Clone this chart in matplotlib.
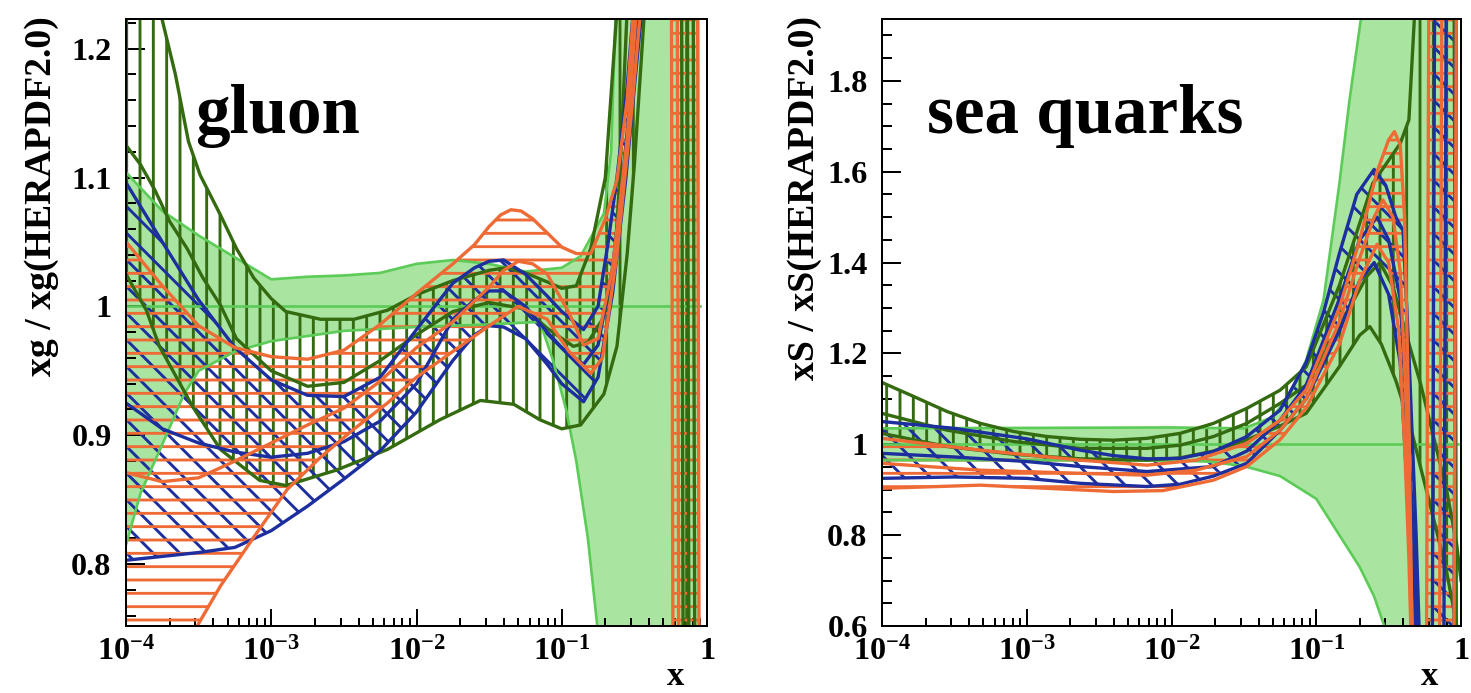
import numpy as np
import matplotlib
matplotlib.use('Agg')
import matplotlib.pyplot as plt
from matplotlib.ticker import FixedLocator, FixedFormatter, LogLocator, NullFormatter, MultipleLocator

plt.rcParams['font.family'] = ['Liberation Serif', 'DejaVu Serif']
plt.rcParams['font.weight'] = 'bold'
plt.rcParams['mathtext.fontset'] = 'custom'
plt.rcParams['mathtext.rm'] = 'Liberation Serif:bold'
plt.rcParams['mathtext.bf'] = 'Liberation Serif:bold'
plt.rcParams['mathtext.it'] = 'Liberation Serif:bold:italic'
plt.rcParams['hatch.linewidth'] = 2.6

# colours
REF_FILL = '#a9e5a1'
REF_LINE = '#5ccb57'
DARK_GREEN = '#356b10'
BLUE = '#1d2e9e'
ORANGE = '#ef6b35'

x_ticks = [1e-4, 1e-3, 1e-2, 1e-1, 1]
x_tick_labels = [r'$10^{-4}$', r'$10^{-3}$', r'$10^{-2}$', r'$10^{-1}$', '1']

# ---------------- gluon panel (x values as log10 x) ----------------
g_ref_up_lx = [-4.0, -3.75, -3.5, -3.25, -3.0, -2.75, -2.5, -2.25, -2.0, -1.75, -1.5, -1.25, -1.0, -0.87, -0.71, -0.66, -0.62, -0.05]
g_ref_up = [1.104, 1.074, 1.055, 1.038, 1.021, 1.023, 1.024, 1.026, 1.033, 1.036, 1.033, 1.027, 1.030, 1.039, 1.072, 1.120, 1.260, 1.260]
g_ref_lo_lx = [-4.0, -3.9, -3.75, -3.6, -3.5, -3.25, -3.0, -2.5, -2.0, -1.5, -1.15, -1.06, -0.97, -0.9, -0.82, -0.76, -0.7, -0.05]
g_ref_lo = [0.815, 0.855, 0.893, 0.932, 0.950, 0.965, 0.973, 0.981, 0.984, 0.986, 0.988, 0.958, 0.920, 0.880, 0.820, 0.757, 0.690, 0.690]
g_ref_end = -0.05

g_dg_up_lx = [-4.0, -3.75, -3.66, -3.57, -3.49, -3.35, -3.24, -3.12, -3.0, -2.9, -2.66, -2.43, -2.2, -2.0, -1.75, -1.5, -1.38, -1.25, -1.1, -1.0, -0.9, -0.8, -0.7, -0.62, -0.18, -0.16, 0.0]
g_dg_up = [1.45, 1.222, 1.180, 1.128, 1.102, 1.071, 1.045, 1.022, 1.006, 0.996, 0.990, 0.990, 0.997, 1.009, 1.020, 1.028, 1.030, 1.026, 1.019, 1.014, 1.016, 1.045, 1.100, 1.230, 1.5, 0.5, 0.5]
g_dg_mid_lx = [-4.0, -3.9, -3.8, -3.7, -3.58, -3.47, -3.35, -3.24, -3.0, -2.75, -2.5, -2.25, -2.0, -1.75, -1.5, -1.25, -1.1, -0.92, -0.82, -0.72, -0.645, -0.6, -0.55, -0.14, -0.12, 0.0]
g_dg_mid = [1.125, 1.110, 1.090, 1.066, 1.045, 1.022, 1.001, 0.975, 0.950, 0.938, 0.941, 0.958, 0.978, 0.996, 1.003, 0.998, 0.983, 0.969, 0.972, 0.990, 1.020, 1.100, 1.230, 1.5, 0.5, 0.5]
g_dg_lo_lx = [-4.0, -3.86, -3.77, -3.54, -3.35, -3.08, -2.9, -2.55, -2.2, -1.84, -1.56, -1.33, -1.15, -1.0, -0.87, -0.71, -0.62, -0.55, -0.5, -0.43, -0.10, -0.08, 0.0]
g_dg_lo = [1.025, 0.997, 0.969, 0.922, 0.889, 0.865, 0.861, 0.873, 0.889, 0.912, 0.927, 0.924, 0.912, 0.905, 0.908, 0.932, 0.969, 1.040, 1.110, 1.230, 1.5, 0.5, 0.5]

g_bl_up_lx = [-4.0, -3.75, -3.5, -3.25, -3.0, -2.75, -2.5, -2.25, -2.0, -1.75, -1.6, -1.5, -1.4, -1.25, -1.1, -1.0, -0.85, -0.75, -0.68, -0.62, -0.55, -0.5, 0.0]
g_bl_up = [1.096, 1.050, 1.005, 0.968, 0.943, 0.931, 0.930, 0.945, 0.982, 1.018, 1.030, 1.035, 1.036, 1.025, 1.008, 0.996, 0.982, 1.000, 1.050, 1.100, 1.170, 1.240, 1.5]
g_bl_mid_lx = [-4.0, -3.75, -3.5, -3.25, -3.0, -2.75, -2.5, -2.25, -2.0, -1.75, -1.6, -1.5, -1.4, -1.25, -1.1, -1.0, -0.85, -0.75, -0.65, -0.58, -0.52, -0.47, 0.0]
g_bl_mid = [0.925, 0.905, 0.894, 0.887, 0.883, 0.886, 0.895, 0.911, 0.940, 0.990, 1.005, 1.012, 1.012, 1.000, 0.980, 0.968, 0.955, 0.970, 1.030, 1.100, 1.170, 1.240, 1.5]
g_bl_lo_lx = [-4.0, -3.75, -3.5, -3.25, -3.0, -2.75, -2.5, -2.25, -2.0, -1.75, -1.6, -1.5, -1.4, -1.25, -1.1, -1.0, -0.85, -0.75, -0.65, -0.56, -0.5, -0.44, 0.0]
g_bl_lo = [0.803, 0.806, 0.809, 0.813, 0.826, 0.845, 0.866, 0.888, 0.918, 0.958, 0.978, 0.985, 0.984, 0.975, 0.955, 0.940, 0.926, 0.945, 1.010, 1.098, 1.170, 1.240, 1.5]

g_or_up_lx = [-4.0, -3.75, -3.5, -3.25, -3.0, -2.75, -2.5, -2.25, -2.0, -1.75, -1.6, -1.5, -1.42, -1.35, -1.28, -1.2, -1.1, -1.0, -0.9, -0.8, -0.7, -0.62, -0.55, -0.5, -0.25, -0.23, 0.0]
g_or_up = [1.050, 1.016, 0.985, 0.968, 0.961, 0.959, 0.966, 0.986, 1.010, 1.033, 1.048, 1.062, 1.071, 1.075, 1.074, 1.068, 1.057, 1.046, 1.041, 1.041, 1.068, 1.098, 1.160, 1.240, 1.5, 0.5, 0.5]
g_or_mid_lx = [-4.0, -3.75, -3.5, -3.25, -3.0, -2.75, -2.5, -2.25, -2.0, -1.75, -1.5, -1.4, -1.3, -1.2, -1.1, -0.95, -0.85, -0.75, -0.65, -0.55, -0.48, -0.21, -0.19, 0.0]
g_or_mid = [0.871, 0.864, 0.867, 0.880, 0.894, 0.908, 0.921, 0.942, 0.968, 0.988, 1.015, 1.028, 1.035, 1.033, 1.025, 0.995, 0.970, 0.975, 1.030, 1.130, 1.240, 1.5, 0.5, 0.5]
g_or_lo_lx = [-4.0, -3.75, -3.51, -3.35, -3.12, -2.89, -2.66, -2.44, -2.2, -2.0, -1.75, -1.5, -1.3, -1.1, -0.95, -0.8, -0.72, -0.62, -0.52, -0.45, -0.07, -0.05, 0.0]
g_or_lo = [0.660, 0.710, 0.752, 0.783, 0.821, 0.858, 0.883, 0.904, 0.925, 0.945, 0.965, 0.985, 1.000, 0.990, 0.965, 0.948, 0.960, 1.040, 1.150, 1.240, 1.5, 0.5, 0.5]

# ---------------- sea quark panel ----------------
s_ref_up_lx = [-4.0, -3.0, -2.0, -1.75, -1.5, -1.3, -1.18, -1.07, -0.95, -0.84, -0.77, -0.69, -0.6, -0.02]
s_ref_up = [1.035, 1.036, 1.037, 1.036, 1.035, 1.060, 1.112, 1.185, 1.317, 1.574, 1.758, 1.940, 2.2, 2.2]
s_ref_lo_lx = [-4.0, -3.0, -2.0, -1.75, -1.5, -1.25, -1.0, -0.9, -0.8, -0.7, -0.6, -0.53, -0.45, -0.02]
s_ref_lo = [0.965, 0.965, 0.964, 0.962, 0.952, 0.930, 0.880, 0.830, 0.780, 0.730, 0.665, 0.600, 0.4, 0.4]
s_ref_end = -0.02

s_dg_up_lx = [-4.0, -3.78, -3.55, -3.32, -3.09, -2.86, -2.63, -2.4, -2.17, -1.94, -1.71, -1.48, -1.25, -1.07, -0.84, -0.61, -0.42, -0.36, -0.32, -0.3, -0.05, -0.03, 0.0]
s_dg_up = [1.136, 1.105, 1.072, 1.046, 1.028, 1.017, 1.011, 1.009, 1.013, 1.024, 1.046, 1.079, 1.119, 1.170, 1.350, 1.574, 1.662, 1.714, 1.950, 2.2, 2.2, 0.4, 0.4]
s_dg_mid_lx = [-4.0, -3.55, -3.09, -2.63, -2.17, -1.94, -1.71, -1.48, -1.25, -1.07, -0.84, -0.65, -0.56, -0.47, -0.38, -0.28, -0.2, -0.1, -0.03, 0.0]
s_dg_mid = [1.068, 1.031, 1.006, 0.991, 0.991, 0.998, 1.017, 1.046, 1.090, 1.130, 1.260, 1.370, 1.400, 1.347, 1.244, 1.134, 1.030, 0.900, 0.780, 0.700]
s_dg_lo_lx = [-4.0, -3.55, -3.09, -2.63, -2.17, -1.94, -1.71, -1.48, -1.25, -1.07, -0.84, -0.7, -0.63, -0.55, -0.45, -0.35, -0.28, -0.2, -0.1, -0.04, 0.0]
s_dg_lo = [1.024, 0.995, 0.978, 0.968, 0.965, 0.970, 0.985, 1.010, 1.040, 1.068, 1.171, 1.240, 1.259, 1.220, 1.140, 1.040, 0.950, 0.850, 0.720, 0.620, 0.550]

s_bl_up_lx = [-4.0, -3.5, -3.0, -2.63, -2.4, -2.17, -1.94, -1.71, -1.48, -1.25, -1.07, -0.95, -0.84, -0.72, -0.6, -0.52, -0.45, -0.4, -0.36, -0.31, -0.27, -0.2, -0.18, 0.0]
s_bl_up = [1.050, 1.035, 1.012, 0.987, 0.975, 0.968, 0.969, 0.984, 1.017, 1.075, 1.180, 1.290, 1.420, 1.550, 1.605, 1.570, 1.500, 1.470, 1.200, 0.800, 0.400, 0.400, 2.2, 2.2]
s_bl_mid_lx = [-4.0, -3.5, -3.0, -2.63, -2.17, -1.71, -1.48, -1.25, -1.07, -0.84, -0.7, -0.58, -0.5, -0.42, -0.37, -0.32, -0.28, -0.12, -0.1, 0.0]
s_bl_mid = [0.980, 0.972, 0.962, 0.951, 0.940, 0.951, 0.985, 1.053, 1.130, 1.320, 1.450, 1.500, 1.450, 1.320, 1.050, 0.750, 0.400, 0.400, 2.2, 2.2]
s_bl_lo_lx = [-4.0, -3.5, -3.0, -2.63, -2.17, -1.94, -1.71, -1.48, -1.25, -1.07, -0.84, -0.7, -0.6, -0.5, -0.42, -0.38, -0.33, -0.3, -0.05, -0.03, 0.0]
s_bl_lo = [0.925, 0.928, 0.925, 0.914, 0.907, 0.912, 0.930, 0.958, 1.031, 1.100, 1.250, 1.360, 1.400, 1.330, 1.180, 0.950, 0.700, 0.400, 0.400, 2.2, 2.2]

s_or_up_lx = [-4.0, -3.32, -2.63, -2.17, -1.83, -1.48, -1.25, -1.07, -0.84, -0.7, -0.58, -0.5, -0.46, -0.42, -0.39, -0.36, -0.33, -0.24, -0.22, 0.0]
s_or_up = [1.013, 0.987, 0.965, 0.954, 0.965, 1.002, 1.053, 1.120, 1.300, 1.450, 1.600, 1.670, 1.688, 1.660, 1.500, 1.050, 0.400, 0.400, 2.2, 2.2]
s_or_mid_lx = [-4.0, -3.32, -2.63, -2.17, -1.83, -1.48, -1.25, -1.07, -0.84, -0.7, -0.6, -0.54, -0.47, -0.42, -0.38, -0.35, -0.32, -0.15, -0.13, 0.0]
s_or_mid = [0.958, 0.943, 0.936, 0.932, 0.943, 0.973, 1.031, 1.100, 1.270, 1.410, 1.500, 1.538, 1.500, 1.380, 1.100, 0.750, 0.400, 0.400, 2.2, 2.2]
s_or_lo_lx = [-4.0, -3.32, -2.86, -2.4, -2.06, -1.71, -1.48, -1.25, -1.07, -0.84, -0.7, -0.58, -0.5, -0.43, -0.39, -0.36, -0.33, -0.05, -0.03, 0.0]
s_or_lo = [0.903, 0.910, 0.903, 0.896, 0.898, 0.921, 0.951, 1.010, 1.080, 1.220, 1.360, 1.440, 1.400, 1.250, 1.000, 0.750, 0.400, 0.400, 2.2, 2.2]


def draw_ref(ax, up_lx, up, lo_lx, lo):
    xu, xl = 10 ** np.array(up_lx), 10 ** np.array(lo_lx)
    ax.fill(np.concatenate([xu, xl[::-1]]), np.concatenate([up, lo[::-1]]),
            facecolor=REF_FILL, edgecolor='none', zorder=1)


def draw_ref_lines(ax, up_lx, up, lo_lx, lo, end_lx):
    ax.plot(10 ** np.array(up_lx), up, color=REF_LINE, lw=2.4, zorder=3)
    ax.plot(10 ** np.array(lo_lx), lo, color=REF_LINE, lw=2.4, zorder=3)
    ax.plot([1e-4, 10 ** end_lx], [1, 1], color=REF_LINE, lw=2.4, zorder=3)


def draw_hatch(ax, up_lx, up, lo_lx, lo, color, hatch):
    xu, xl = 10 ** np.array(up_lx), 10 ** np.array(lo_lx)
    ax.fill(np.concatenate([xu, xl[::-1]]), np.concatenate([up, lo[::-1]]),
            facecolor='none', edgecolor=color, hatch=hatch, linewidth=0, zorder=2)


def draw_lines(ax, curves, color):
    for lx, v in curves:
        ax.plot(10 ** np.array(lx), v, color=color, lw=3.0, zorder=4,
                solid_joinstyle='round')


def setup(ax, ylim, yticks, ylabels, yminor, ylabel, ylabel_x, name, name_x):
    ax.set_xscale('log')
    ax.set_xlim(1e-4, 1)
    ax.set_ylim(*ylim)
    ax.xaxis.set_major_locator(FixedLocator(x_ticks))
    ax.xaxis.set_major_formatter(FixedFormatter(x_tick_labels))
    ax.xaxis.set_minor_locator(LogLocator(base=10, subs=np.arange(2, 10), numticks=20))
    ax.xaxis.set_minor_formatter(NullFormatter())
    ax.yaxis.set_major_locator(FixedLocator(yticks))
    ax.yaxis.set_major_formatter(FixedFormatter(ylabels))
    ax.yaxis.set_minor_locator(MultipleLocator(yminor))
    ax.tick_params(which='both', direction='in', top=False, right=False, width=1.8)
    ax.tick_params(axis='y', which='major', length=17, pad=13, labelsize=29)
    ax.tick_params(axis='y', which='minor', length=9)
    ax.tick_params(axis='x', which='major', length=15, pad=10, labelsize=29)
    ax.tick_params(axis='x', which='minor', length=7.5)
    for sp in ax.spines.values():
        sp.set_linewidth(1.8)
        sp.set_zorder(6)
    ax.text(ylabel_x, 1.005, ylabel, transform=ax.transAxes, rotation=90,
            ha='center', va='top', fontsize=34, fontweight='bold')
    ax.text(name_x, 0.812, name, transform=ax.transAxes, ha='left', va='baseline',
            fontsize=62, fontweight='bold', zorder=7)
    ax.text(0.945, -0.083, 'x', transform=ax.transAxes, ha='center', va='center',
            fontsize=31, fontweight='bold')


fig = plt.figure(figsize=(1471 / 80, 693 / 80), dpi=80)
ax1 = fig.add_axes([126 / 1471, 67 / 693, 581 / 1471, 607 / 693])
ax2 = fig.add_axes([882 / 1471, 67 / 693, 579 / 1471, 607 / 693])

#----------------#
# gluon
#----------------#
draw_ref(ax1, g_ref_up_lx, np.array(g_ref_up), g_ref_lo_lx, np.array(g_ref_lo))
draw_hatch(ax1, g_dg_up_lx, np.array(g_dg_up), g_dg_lo_lx, np.array(g_dg_lo), DARK_GREEN, '|')
draw_hatch(ax1, g_bl_up_lx, np.array(g_bl_up), g_bl_lo_lx, np.array(g_bl_lo), BLUE, '\\')
draw_hatch(ax1, g_or_up_lx, np.array(g_or_up), g_or_lo_lx, np.array(g_or_lo), ORANGE, '-')
draw_ref_lines(ax1, g_ref_up_lx, g_ref_up, g_ref_lo_lx, g_ref_lo, g_ref_end)
draw_lines(ax1, [(g_dg_up_lx, g_dg_up), (g_dg_mid_lx, g_dg_mid), (g_dg_lo_lx, g_dg_lo)], DARK_GREEN)
draw_lines(ax1, [(g_bl_up_lx, g_bl_up), (g_bl_mid_lx, g_bl_mid), (g_bl_lo_lx, g_bl_lo)], BLUE)
draw_lines(ax1, [(g_or_up_lx, g_or_up), (g_or_mid_lx, g_or_mid), (g_or_lo_lx, g_or_lo)], ORANGE)
setup(ax1, (0.752, 1.223), [0.8, 0.9, 1.0, 1.1, 1.2], ['0.8', '0.9', '1', '1.1', '1.2'], 0.02,
      'xg / xg(HERAPDF2.0)', -0.146, 'gluon', 0.119)

#----------------#
# sea quarks
#----------------#
draw_ref(ax2, s_ref_up_lx, np.array(s_ref_up), s_ref_lo_lx, np.array(s_ref_lo))
draw_hatch(ax2, s_dg_up_lx, np.array(s_dg_up), s_dg_lo_lx, np.array(s_dg_lo), DARK_GREEN, '|')
draw_hatch(ax2, s_bl_up_lx, np.array(s_bl_up), s_bl_lo_lx, np.array(s_bl_lo), BLUE, '\\')
draw_hatch(ax2, s_or_up_lx, np.array(s_or_up), s_or_lo_lx, np.array(s_or_lo), ORANGE, '-')
draw_ref_lines(ax2, s_ref_up_lx, s_ref_up, s_ref_lo_lx, s_ref_lo, s_ref_end)
draw_lines(ax2, [(s_dg_up_lx, s_dg_up), (s_dg_mid_lx, s_dg_mid), (s_dg_lo_lx, s_dg_lo)], DARK_GREEN)
draw_lines(ax2, [(s_bl_up_lx, s_bl_up), (s_bl_mid_lx, s_bl_mid), (s_bl_lo_lx, s_bl_lo)], BLUE)
draw_lines(ax2, [(s_or_up_lx, s_or_up), (s_or_mid_lx, s_or_mid), (s_or_lo_lx, s_or_lo)], ORANGE)
setup(ax2, (0.6, 1.936), [0.6, 0.8, 1.0, 1.2, 1.4, 1.6, 1.8],
      ['0.6', '0.8', '1', '1.2', '1.4', '1.6', '1.8'], 0.05,
      'xS / xS(HERAPDF2.0)', -0.133, 'sea quarks', 0.078)

fig.savefig('out.png', dpi=80)
